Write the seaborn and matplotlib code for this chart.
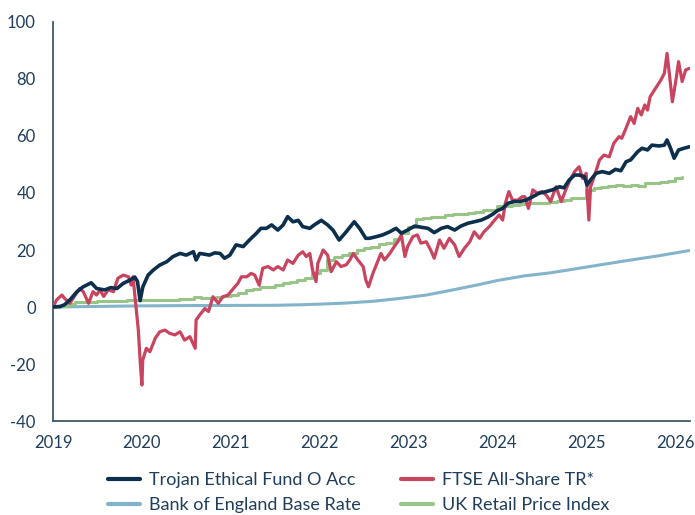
import numpy as np
import pandas as pd
import seaborn as sns
import matplotlib.pyplot as plt

# decimal-year positions as laid out on the chart axis
trojan_x = [0.00, 0.08, 0.13, 0.19, 0.27, 0.34, 0.43, 0.49, 0.58, 0.65, 0.72, 0.79, 0.87, 0.92, 0.95, 0.98,
            1.01, 1.07, 1.13, 1.20, 1.28, 1.35, 1.43, 1.50, 1.58, 1.61, 1.65, 1.71, 1.76, 1.82, 1.88, 1.93,
            1.99, 2.06, 2.14, 2.21, 2.29, 2.34, 2.40, 2.46, 2.53, 2.59, 2.64, 2.70, 2.76, 2.81, 2.89, 2.94,
            3.02, 3.09, 3.15, 3.22, 3.30, 3.39, 3.45, 3.52, 3.56, 3.64, 3.71, 3.79, 3.86, 3.92, 3.99, 4.07,
            4.14, 4.22, 4.29, 4.37, 4.44, 4.52, 4.59, 4.67, 4.74, 4.82, 4.89, 4.95, 5.00, 5.06, 5.12, 5.19,
            5.25, 5.32, 5.40, 5.47, 5.55, 5.62, 5.70, 5.75, 5.81, 5.87, 5.92, 5.98, 6.01, 6.05, 6.11, 6.18,
            6.26, 6.33, 6.39, 6.45, 6.50, 6.58, 6.63, 6.69, 6.74, 6.82, 6.88, 6.91, 6.95, 6.99, 7.04, 7.10, 7.16]
trojan_y = [0, 0.2, 0.8, 2.5, 5.4, 7.1, 8.5, 6.5, 6.0, 6.8, 6.5, 8.3, 9.5, 10.5, 9.0, 2.2,
            7.0, 11.2, 13.0, 14.7, 15.9, 17.7, 18.8, 18.2, 19.4, 16.5, 18.8, 18.5, 18.2, 19.0, 18.8, 17.1,
            18.2, 21.8, 21.2, 23.5, 25.9, 27.6, 27.6, 28.8, 27.0, 28.8, 31.7, 29.9, 30.4, 28.2, 27.6, 28.8,
            30.4, 28.8, 27.0, 23.5, 26.4, 29.9, 27.6, 24.1, 24.1, 24.7, 25.3, 26.4, 27.6, 25.9, 27.0, 28.4,
            28.0, 27.6, 26.1, 27.6, 28.2, 27.0, 28.4, 29.4, 29.9, 30.5, 31.5, 32.6, 33.8, 34.6, 36.4, 37.0,
            37.0, 37.5, 38.7, 39.9, 40.5, 41.1, 42.2, 41.8, 44.6, 46.3, 46.3, 45.7, 42.8, 44.6, 46.9, 47.5,
            46.9, 48.3, 47.8, 51.0, 51.6, 54.5, 55.7, 55.1, 56.8, 56.5, 56.8, 58.6, 55.7, 52.2, 55.1, 55.7, 56.2]

ftse_x = [0.00, 0.04, 0.10, 0.13, 0.19, 0.25, 0.30, 0.34, 0.40, 0.45, 0.49, 0.53, 0.57, 0.62, 0.68, 0.73,
          0.79, 0.85, 0.88, 0.90, 0.93, 0.96, 0.98, 1.00, 1.01, 1.05, 1.09, 1.15, 1.20, 1.26, 1.31, 1.37,
          1.43, 1.48, 1.54, 1.60, 1.61, 1.65, 1.71, 1.75, 1.80, 1.86, 1.91, 1.97, 2.03, 2.08, 2.12, 2.18,
          2.23, 2.27, 2.32, 2.36, 2.42, 2.48, 2.53, 2.59, 2.64, 2.70, 2.76, 2.81, 2.85, 2.89, 2.92, 2.96,
          2.98, 3.04, 3.09, 3.13, 3.19, 3.24, 3.30, 3.34, 3.38, 3.43, 3.49, 3.52, 3.55, 3.60, 3.66, 3.69,
          3.73, 3.79, 3.84, 3.88, 3.92, 3.96, 3.99, 4.05, 4.10, 4.14, 4.20, 4.25, 4.29, 4.35, 4.40, 4.46,
          4.52, 4.57, 4.63, 4.69, 4.74, 4.80, 4.85, 4.91, 4.97, 5.02, 5.06, 5.09, 5.13, 5.17, 5.23, 5.28,
          5.31, 5.35, 5.40, 5.45, 5.50, 5.55, 5.60, 5.66, 5.72, 5.77, 5.81, 5.87, 5.92, 5.96, 6.00, 6.03,
          6.05, 6.09, 6.15, 6.20, 6.26, 6.31, 6.37, 6.40, 6.44, 6.50, 6.54, 6.58, 6.62, 6.66, 6.69, 6.72,
          6.78, 6.84, 6.88, 6.91, 6.94, 6.97, 7.01, 7.04, 7.08, 7.12, 7.16]
ftse_y = [0, 2.5, 4.2, 3.0, 1.3, 4.2, 6.5, 5.4, 1.3, 5.4, 4.2, 6.0, 3.7, 6.0, 5.4, 10.1,
          11.2, 10.6, 7.7, 10.6, 1.3, -8.1, -18.6, -27.4, -18.6, -14.5, -15.7, -11.0, -8.7, -8.1, -9.2, -9.8,
          -8.7, -11.6, -10.4, -14.5, -4.6, -2.8, -0.5, -1.6, 3.6, 1.3, 3.6, 4.2, 6.5, 8.3, 10.6, 10.6,
          11.8, 11.2, 7.7, 13.6, 14.2, 13.0, 14.2, 13.0, 16.5, 15.3, 18.2, 19.4, 17.7, 18.8, 13.0, 8.9,
          15.3, 20.0, 18.2, 12.4, 15.9, 14.2, 14.8, 16.5, 18.8, 16.5, 14.2, 9.5, 7.1, 11.8, 16.5, 18.8,
          16.5, 18.8, 21.2, 22.9, 25.3, 17.7, 21.2, 24.7, 25.3, 22.4, 22.9, 20.0, 17.1, 23.5, 20.6, 24.1,
          21.8, 17.7, 20.6, 22.9, 26.4, 24.1, 26.4, 28.2, 30.5, 32.3, 30.5, 36.4, 40.5, 37.5, 37.5, 38.7,
          38.7, 34.6, 41.1, 39.9, 40.5, 39.3, 37.0, 42.2, 37.0, 41.1, 44.0, 47.5, 49.2, 45.1, 46.9, 30.5,
          42.2, 45.7, 51.6, 53.3, 52.7, 57.4, 59.8, 59.2, 62.1, 66.8, 64.4, 69.7, 67.4, 70.9, 69.1, 73.8,
          76.7, 79.6, 82.0, 89.0, 80.8, 72.0, 79.6, 86.1, 79.1, 83.2, 83.7]

boe_x = [0.0, 0.5, 1.0, 1.5, 2.0, 2.5, 2.8, 3.0, 3.3, 3.6, 3.9, 4.2, 4.5, 4.8, 5.0, 5.3, 5.6, 6.0, 6.4, 6.8, 7.16]
boe_y = [0, 0.2, 0.4, 0.5, 0.55, 0.6, 0.8, 1.0, 1.4, 2.0, 3.0, 4.2, 6.0, 7.9, 9.3, 10.9, 12.0, 14.0, 16.0, 17.9, 19.8]

# monthly RPI steps
rpi_y = [0, 0.5, 1.2, 1.6, 1.9, 1.9, 2.0, 2.2, 2.0, 2.2, 2.3, 2.3,
         2.5, 2.5, 2.6, 2.4, 2.6, 2.7, 2.9, 3.4, 3.2, 3.2, 3.6, 3.8,
         4.2, 4.9, 5.8, 6.2, 6.9, 7.1, 7.6, 8.3, 8.9, 9.6, 10.1, 11.8,
         13.0, 16.5, 17.5, 18.2, 19.0, 20.0, 20.6, 21.2, 22.1, 22.4, 24.0, 25.9,
         28.2, 30.8, 31.2, 31.7, 31.7, 32.3, 32.6, 32.8, 33.1, 33.3, 34.0, 34.2,
         35.4, 35.5, 35.8, 36.1, 36.4, 36.6, 36.4, 37.0, 37.1, 37.6, 38.1, 38.3,
         41.1, 41.6, 42.2, 42.4, 42.8, 42.6, 42.8, 42.6, 43.4, 43.4, 44.0, 44.3,
         45.2, 45.5]
rpi_x = list(np.arange(len(rpi_y)) / 12)

years = [2019, 2020, 2021, 2022, 2023, 2024, 2025, 2026]
y_ticks = [-40, -20, 0, 20, 40, 60, 80, 100]

sns.set_style("white")
plt.rcParams['font.family'] = ['Lato', 'DejaVu Sans']
plt.rcParams['axes.unicode_minus'] = False

fig = plt.figure(figsize=(6.95, 5.15), dpi=100)
ax = fig.add_axes([0.0763, 0.1825, 0.9167, 0.7748])

text_col = "#1f3d5c"
sns.lineplot(x=np.array(boe_x) + 2019, y=boe_y, color="#83b4ca", linewidth=2.2,
             label="Bank of England Base Rate", ax=ax, zorder=2)
sns.lineplot(x=np.array(rpi_x) + 2019, y=rpi_y, color="#98c487", linewidth=2.2,
             drawstyle="steps-post", label="UK Retail Price Index", ax=ax, zorder=3)
sns.lineplot(x=np.array(ftse_x) + 2019, y=ftse_y, color="#c9445f", linewidth=2.3,
             label="FTSE All-Share TR*", ax=ax, zorder=4)
sns.lineplot(x=np.array(trojan_x) + 2019, y=trojan_y, color="#0b2f4c", linewidth=2.6,
             label="Trojan Ethical Fund O Acc", ax=ax, zorder=5)

ax.set_xlim(2019, 2026.17)
ax.set_ylim(-40, 100)
ax.set_xticks(years)
ax.set_yticks(y_ticks)
ax.tick_params(axis="both", length=0, labelsize=12, colors=text_col)
ax.tick_params(axis="y", pad=12.5)
ax.tick_params(axis="x", pad=10)
for side in ["top", "right"]:
    ax.spines[side].set_visible(False)
for side in ["left", "bottom"]:
    ax.spines[side].set_color("#3e5a70")
    ax.spines[side].set_linewidth(1.3)

handles, labels = ax.get_legend_handles_labels()
ax.get_legend().remove()
order = [3, 0, 2, 1]
leg = fig.legend([handles[i] for i in order], [labels[i] for i in order],
                 loc="upper left", bbox_to_anchor=(0.1554, 0.083), ncol=2, frameon=False,
                 fontsize=13, handlelength=1.78, handletextpad=0.5, columnspacing=2.2,
                 labelspacing=0.5, borderpad=0, borderaxespad=0)
for t in leg.get_texts():
    t.set_color(text_col)
for h in leg.get_lines():
    h.set_linewidth(3)

fig.savefig("out.png", dpi=100)
